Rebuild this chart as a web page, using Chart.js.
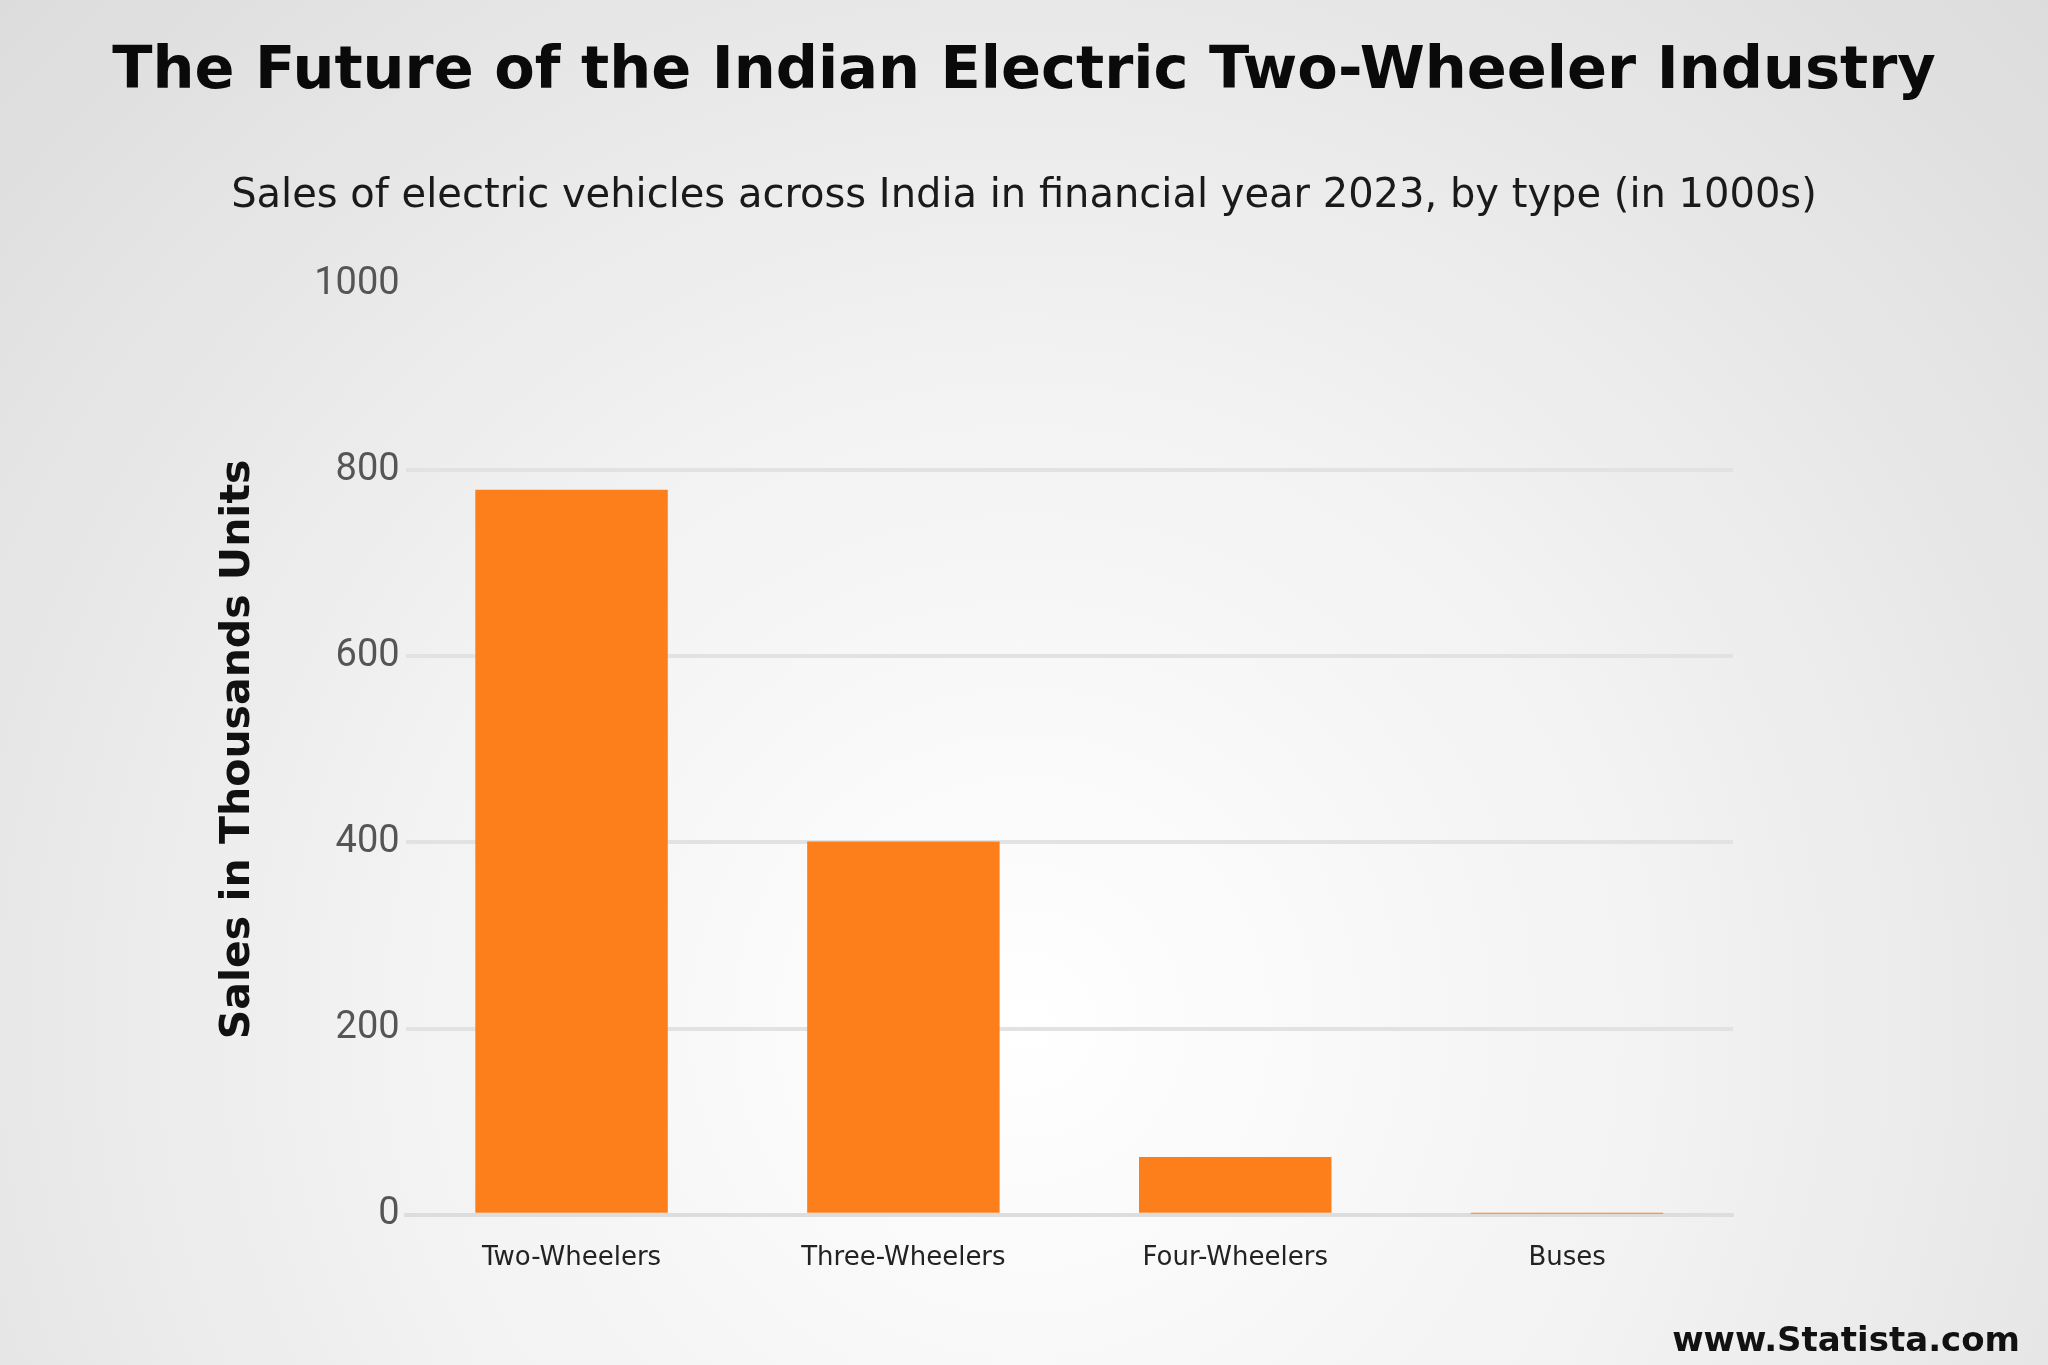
<!DOCTYPE html>
<html>
<head>
<meta charset="utf-8">
<script src="https://cdn.jsdelivr.net/npm/chart.js@4/dist/chart.umd.min.js"></script>
<style>
html, body { margin: 0; padding: 0; }
body {
    width: 2048px; height: 1365px; overflow: hidden; position: relative;
    background: radial-gradient(ellipse at 50% 75%, #ffffff 0%, #f2f2f2 45%, #dcdcdd 100%);
}
#wrap { position: absolute; left: 0; top: 0; width: 2048px; height: 1365px; }
.hd { position: absolute; left: 0; width: 2048px; text-align: center; white-space: nowrap; }
#title { top: 33px; font: bold 59px "DejaVu Sans", sans-serif; color: #0a0a0a; line-height: 70px; }
#subtitle { top: 169px; font: 40px "DejaVu Sans", sans-serif; color: #1a1a1a; line-height: 48px; }
#footer {
    position: absolute; right: 28px; bottom: 6px;
    font: bold 34px "DejaVu Sans", sans-serif; color: #111;
}
</style>
</head>
<body>
<div id="wrap"><canvas id="chart" width="2048" height="1365"></canvas></div>
<div class="hd" id="title">The Future of the Indian Electric Two-Wheeler Industry</div>
<div class="hd" id="subtitle">Sales of electric vehicles across India in financial year 2023, by type (in 1000s)</div>
<div id="footer">www.Statista.com</div>
<script>
// values, thousands of units
var categories = ["Two-Wheelers", "Three-Wheelers", "Four-Wheelers", "Buses"];
var sales = [779, 401, 62, 1];
var y_ticks = [0, 200, 400, 600, 800, 1000];

const ctx = document.getElementById("chart");

new Chart(ctx, {
    type: 'bar',
    data: {
	labels: categories,
	datasets: [{
	    data: sales,
	    backgroundColor: '#fd7f1c',
	    barPercentage: 0.58,
	    categoryPercentage: 1.0
	}]
    },
    options: {
	responsive: false,
	animation: false,
	devicePixelRatio: 1,
	layout: { padding: { left: 210, right: 315, top: 284, bottom: 63 } },
	plugins: {
	    legend: { display: false },
	    tooltip: { enabled: false }
	},
	scales: {
	    x: {
		grid: { display: false, drawTicks: false },
		border: { color: '#dddddd', width: 4 },
		ticks: {
		    color: '#222',
		    padding: 28,
		    font: { family: "DejaVu Sans", size: 26 }
		}
	    },
	    y: {
		min: 0,
		max: 1000,
		afterBuildTicks: function(axis) {
		    axis.ticks = y_ticks.map(function(v) { return { value: v }; });
		},
		grid: {
		    color: function(c) {
			return c.tick && c.tick.value == 1000 ? 'rgba(0,0,0,0)' : '#e2e2e2';
		    },
		    lineWidth: 4,
		    drawTicks: false
		},
		border: { display: false },
		ticks: {
		    color: '#555',
		    padding: 6,
		    callback: function(v) { return String(v); },
		    font: { family: "Roboto", size: 38 }
		},
		title: {
		    display: true,
		    text: "Sales in Thousands Units",
		    color: '#111',
		    padding: { bottom: 45 },
		    font: { family: "DejaVu Sans", size: 41, weight: 'bold' }
		}
	    }
	}
    }
});
</script>
</body>
</html>
